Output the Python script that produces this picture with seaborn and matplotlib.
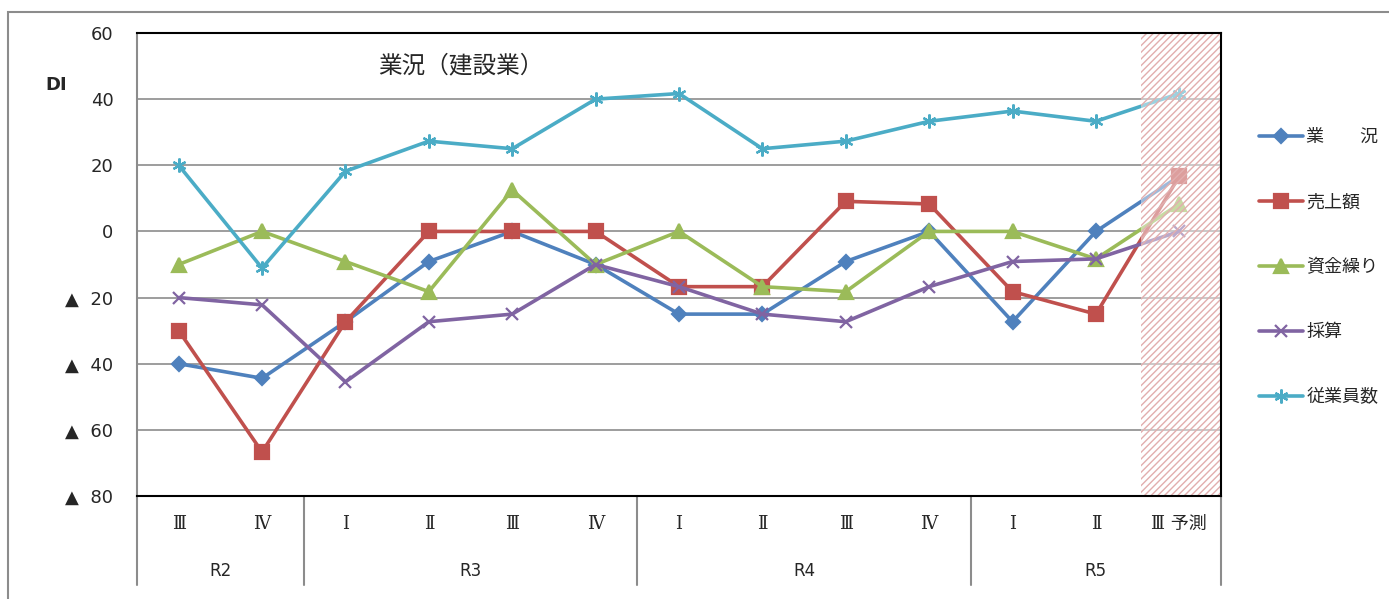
import numpy as np
import pandas as pd
import matplotlib.pyplot as plt
import matplotlib.transforms as mtransforms
from matplotlib.patches import Rectangle
import seaborn as sns

# ---------------------------------------------------------------
# Data (DI values)
# ---------------------------------------------------------------
quarters = ['Ⅲ', 'Ⅳ', 'Ⅰ', 'Ⅱ', 'Ⅲ', 'Ⅳ', 'Ⅰ', 'Ⅱ', 'Ⅲ', 'Ⅳ', 'Ⅰ', 'Ⅱ', 'Ⅲ 予測']
years = ['R2', 'R3', 'R4', 'R5']
year_span = [2, 4, 4, 3]

series_names = ['業　　況', '売上額', '資金繰り', '採算', '従業員数']
gyokyo = [-40, -44.4, -27.3, -9.1, 0, -10, -25, -25, -9.1, 0, -27.3, 0, 16.7]
uriage = [-30, -66.7, -27.3, 0, 0, 0, -16.7, -16.7, 9.1, 8.3, -18.2, -25, 16.7]
shikin = [-10, 0, -9.1, -18.2, 12.5, -10, 0, -16.7, -18.2, 0, 0, -8.3, 8.3]
saisan = [-20, -22.2, -45.5, -27.3, -25, -10, -16.7, -25, -27.3, -16.7, -9.1, -8.3, 0]
jugyoin = [20, -11.1, 18.2, 27.3, 25, 40, 41.7, 25, 27.3, 33.3, 36.4, 33.3, 41.7]

yticks = [60, 40, 20, 0, -20, -40, -60, -80]

colors = ['#4F81BD', '#C0504D', '#9BBB59', '#8064A2', '#4BACC6']
markers = ['D', 's', '^', 'x', (6, 2, 0)]
msizes = [7, 10, 10, 8, 10]

# ---------------------------------------------------------------
# Figure setup
# ---------------------------------------------------------------
sns.set_theme(style="white")
plt.rcParams['font.family'] = ['DejaVu Sans', 'Noto Sans CJK JP']
cjk = ['Noto Sans CJK JP', 'DejaVu Sans']
serif = ['DejaVu Serif', 'Noto Sans CJK JP']

fig = plt.figure(figsize=(13.89, 5.99), dpi=100)
ax = fig.add_axes([137 / 1389, 103 / 599, 1084 / 1389, 463 / 599])

x = np.arange(len(quarters))
all_values = [gyokyo, uriage, shikin, saisan, jugyoin]
for name, vals, c, m, ms in zip(series_names, all_values, colors, markers, msizes):
    df = pd.DataFrame({'x': x, 'y': vals})
    sns.lineplot(data=df, x='x', y='y', ax=ax, color=c, linewidth=2.6,
                 marker=m, markersize=ms, markeredgecolor=c,
                 markeredgewidth=1.6, label=name, zorder=3)

# forecast zone (hatched)
ax.add_patch(Rectangle((11.54, -80), 0.96, 140, facecolor=(1, 1, 1, 0.45),
                       edgecolor='#E2AEAE', hatch='/////', linewidth=0,
                       zorder=4))

ax.set_xlim(-0.5, 12.5)
ax.set_ylim(-80, 60)
ax.set_yticks(yticks)
ax.set_yticklabels([str(v) if v >= 0 else '▲  ' + str(-v) for v in yticks],
                   fontsize=13)
ax.tick_params(axis='y', length=0, pad=17)
ax.set_xticks([])
ax.set_xlabel('')
ax.set_ylabel('')
ax.grid(axis='y', color='#8C8C8C', linewidth=1.2)
ax.set_axisbelow(True)

for side in ['top', 'right', 'bottom']:
    ax.spines[side].set_color('black')
    ax.spines[side].set_linewidth(1.5)
ax.spines['left'].set_color('#8C8C8C')
ax.spines['left'].set_linewidth(1.5)
for s in ax.spines.values():
    s.set_zorder(5)

# category axis (quarters / years)
trans = mtransforms.blended_transform_factory(ax.transData, ax.transAxes)
for xi, q in zip(x, quarters):
    ax.text(xi, -0.06, q, transform=trans, ha='center', va='center',
            fontsize=13, family=serif)
start = -0.5
bounds = [start]
for yr, n in zip(years, year_span):
    ax.text(start + n / 2, -0.162, yr, transform=trans, ha='center',
            va='center', fontsize=12)
    start += n
    bounds.append(start)
for b in bounds:
    ax.plot([b, b], [0, -0.192], transform=trans, color='#8C8C8C',
            linewidth=1.5, clip_on=False)

# titles
ax.text(0.222, 0.93, '業況（建設業）', transform=ax.transAxes, ha='left',
        va='center', fontsize=17, family=cjk)
fig.text(45 / 1389, 1 - 85 / 599, 'DI', fontsize=13, fontweight='bold',
         ha='left', va='center')

# legend
handles, labels = ax.get_legend_handles_labels()
if ax.get_legend() is not None:
    ax.get_legend().remove()
leg = fig.legend(handles, labels, loc='upper left',
                 bbox_to_anchor=(1243 / 1389, 1 - 112 / 599), frameon=False,
                 labelspacing=2.6, handlelength=2.4, handletextpad=0.2,
                 prop={'family': cjk, 'size': 13})

# outer frame
fig.patches.append(Rectangle((8 / 1389, -0.05), 1.2, 1 - 12 / 599 + 0.05,
                             transform=fig.transFigure, fill=False,
                             edgecolor='#8C8C8C', linewidth=1.5))

fig.savefig('out.png', dpi=100, facecolor='white')
